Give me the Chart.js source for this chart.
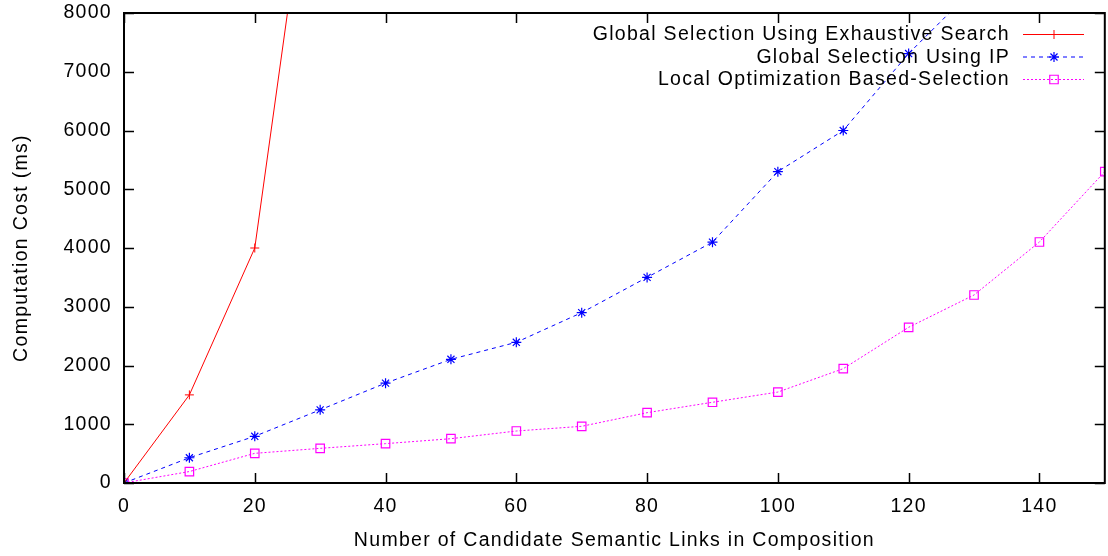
<!DOCTYPE html>
<html>
<head>
<meta charset="utf-8">
<title>Computation Cost</title>
<script src="https://cdn.jsdelivr.net/npm/chart.js@4/dist/chart.umd.min.js"></script>
<style>
    html, body { margin: 0; padding: 0; background: #fff; overflow: hidden; }
    #wrap { width: 1112px; height: 556px; }
</style>
</head>
<body>
<div id="wrap"><canvas id="costChart" width="1112" height="556"></canvas></div>
<script>
// Data
const xLinks = [0, 10, 20, 30, 40, 50, 60, 70, 80, 90, 100, 110, 120, 130, 140, 150];
const exhaustiveCost = [0, 1500, 4000, 12000];
const ipCost = [0, 430, 795, 1245, 1700, 2105, 2395, 2900, 3500, 4100, 5300, 6000, 7310, 8420];
const localCost = [0, 195, 505, 590, 670, 754, 885, 965, 1197, 1374, 1548, 1946, 2650, 3200, 4102, 5300];

const seriesLabels = [
    'Global Selection Using Exhaustive Search',
    'Global Selection Using IP',
    'Local Optimization Based-Selection'
];
const xTickStep = 20;
const yTickStep = 1000;

const FONT = '"Liberation Sans", Arial, Helvetica, sans-serif';
const FONT_SIZE = 19.5;
const LETTER_SPACING = '1.3px'; // reference text is a bit wider than Arial

const toPoints = (values) => values.map((v, i) => ({ x: xLinks[i], y: v }));

// wider text, set before layout (measuring) and before drawing
const textSpacing = {
    id: 'textSpacing',
    beforeLayout(chart) { chart.ctx.letterSpacing = LETTER_SPACING; },
    beforeDraw(chart) { chart.ctx.letterSpacing = LETTER_SPACING; }
};

// Frame, mirrored inward ticks and gnuplot-style key
const gnuplotFrame = {
    id: 'gnuplotFrame',
    afterDatasetsDraw(chart) {
        const { ctx, chartArea: a, scales: { x, y } } = chart;
        const tick = 10;
        ctx.save();
        ctx.strokeStyle = '#000';
        ctx.lineWidth = 1.5;
        ctx.beginPath();
        x.ticks.forEach(t => {
            const px = Math.round(x.getPixelForValue(t.value)) + 0.5;
            ctx.moveTo(px, a.bottom); ctx.lineTo(px, a.bottom - tick);
            ctx.moveTo(px, a.top); ctx.lineTo(px, a.top + tick);
        });
        y.ticks.forEach(t => {
            const py = Math.round(y.getPixelForValue(t.value)) + 0.5;
            ctx.moveTo(a.left, py); ctx.lineTo(a.left + tick, py);
            ctx.moveTo(a.right, py); ctx.lineTo(a.right - tick, py);
        });
        ctx.stroke();
        ctx.lineWidth = 2;
        ctx.strokeRect(a.left, a.top, a.right - a.left, a.bottom - a.top);

        // key
        ctx.font = FONT_SIZE + 'px ' + FONT;
        ctx.textAlign = 'right';
        ctx.textBaseline = 'middle';
        const textRight = 1010, lineStart = 1023, lineEnd = 1084, markX = 1054;
        chart.data.datasets.forEach((ds, i) => {
            const ry = 34 + i * 22.5;
            ctx.fillStyle = '#000';
            ctx.fillText(ds.label, textRight, ry + 1);
            ctx.strokeStyle = ds.borderColor;
            ctx.lineWidth = ds.borderWidth;
            ctx.setLineDash(ds.borderDash || []);
            ctx.beginPath();
            ctx.moveTo(lineStart, ry + 0.5);
            ctx.lineTo(lineEnd, ry + 0.5);
            ctx.stroke();
            ctx.setLineDash([]);
            ctx.fillStyle = ds.backgroundColor;
            ctx.strokeStyle = ds.pointBorderColor;
            ctx.lineWidth = ds.pointBorderWidth;
            Chart.helpers.drawPoint(ctx, {
                pointStyle: ds.pointStyle,
                radius: ds.pointRadius,
                borderWidth: ds.pointBorderWidth
            }, markX, ry + 0.5);
        });
        ctx.restore();
    }
};

const axisFont = { family: FONT, size: FONT_SIZE };
const plainNumber = (value) => String(value);

const ctx = document.getElementById('costChart').getContext('2d');

new Chart(ctx, {
    type: 'line',
    data: {
        datasets: [
            {
                label: seriesLabels[0],
                data: toPoints(exhaustiveCost),
                borderColor: '#ff0000',
                pointBorderColor: '#ff0000',
                backgroundColor: '#ff0000',
                borderWidth: 1,
                pointStyle: 'cross',
                pointRadius: 4.5,
                pointBorderWidth: 1,
                clip: 0
            },
            {
                label: seriesLabels[1],
                data: toPoints(ipCost),
                borderColor: '#0000ff',
                pointBorderColor: '#0000ff',
                backgroundColor: '#0000ff',
                borderWidth: 1,
                borderDash: [4, 4],
                pointStyle: 'star',
                pointRadius: 5,
                pointBorderWidth: 1.2,
                clip: 0
            },
            {
                label: seriesLabels[2],
                data: toPoints(localCost),
                borderColor: '#ff00ff',
                pointBorderColor: '#ff00ff',
                backgroundColor: 'rgba(0,0,0,0)',
                borderWidth: 1,
                borderDash: [2, 2],
                pointStyle: 'rect',
                pointRadius: 6,
                pointBorderWidth: 1.2,
                clip: 0
            }
        ]
    },
    options: {
        responsive: false,
        animation: false,
        layout: {
            padding: { top: 13, right: 2, left: 0, bottom: 0 }
        },
        plugins: {
            legend: { display: false },
            tooltip: { enabled: false }
        },
        elements: {
            line: { tension: 0 },
            point: { hoverRadius: 0 }
        },
        scales: {
            x: {
                type: 'linear',
                min: 0,
                max: 150,
                grid: { display: false, drawTicks: false },
                border: { display: false },
                ticks: {
                    stepSize: xTickStep,
                    includeBounds: false,
                    padding: 12,
                    color: '#000',
                    font: axisFont,
                    maxRotation: 0,
                    callback: plainNumber
                },
                title: {
                    display: true,
                    text: 'Number of Candidate Semantic Links in Composition',
                    color: '#000',
                    font: axisFont,
                    padding: { top: 4, bottom: 4 }
                },
                afterFit(scale) {
                    scale.height = 73;
                    scale.paddingLeft = 0;
                    scale.paddingRight = 0;
                }
            },
            y: {
                type: 'linear',
                min: 0,
                max: 8000,
                grid: { display: false, drawTicks: false },
                border: { display: false },
                ticks: {
                    stepSize: yTickStep,
                    padding: 12,
                    color: '#000',
                    font: axisFont,
                    callback: plainNumber
                },
                title: {
                    display: true,
                    text: 'Computation Cost (ms)',
                    color: '#000',
                    font: axisFont,
                    padding: { top: 10, bottom: 4 }
                },
                afterFit(scale) {
                    scale.width = 124;
                    scale.paddingTop = 0;
                    scale.paddingBottom = 0;
                }
            }
        }
    },
    plugins: [textSpacing, gnuplotFrame]
});
</script>
</body>
</html>
